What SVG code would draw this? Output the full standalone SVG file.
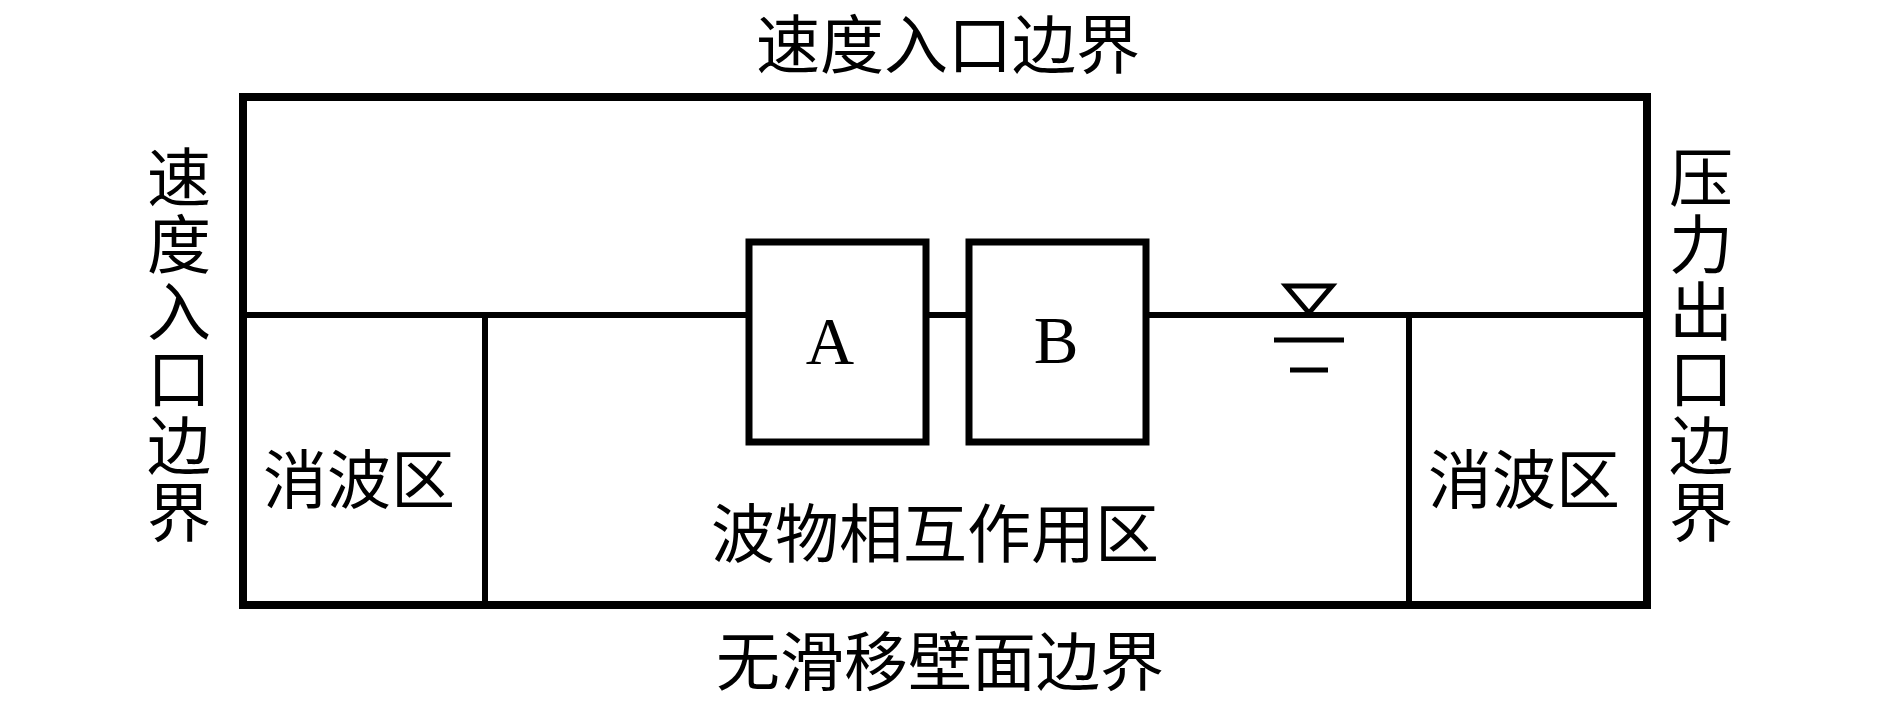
<svg xmlns="http://www.w3.org/2000/svg" width="1890" height="705" viewBox="0 0 1890 705">
<style>
.ln{fill:none;stroke:#000;stroke-width:6;stroke-linecap:square}
.box{fill:#fff;stroke:#000;stroke-width:7}
.cjk{font-family:"Noto Sans CJK SC","Noto Sans",sans-serif;font-size:64px;fill:#000;text-anchor:middle}
.lat{font-family:"Liberation Serif",serif;font-size:67px;fill:#000;text-anchor:middle}
</style>
<rect width="1890" height="705" fill="#fff"/>
<g id="connectors">
<line class="ln" x1="243" y1="315" x2="749" y2="315"/>
<line class="ln" x1="926" y1="315" x2="969" y2="315"/>
<line class="ln" x1="1146" y1="315" x2="1647" y2="315"/>
<line class="ln" x1="485" y1="315" x2="485" y2="605"/>
<line class="ln" x1="1409" y1="315" x2="1409" y2="605"/>
</g>
<g id="domain">
<rect x="243" y="97" width="1404" height="508" fill="none" stroke="#000" stroke-width="8"/>
</g>
<g id="waterlevel">
<polygon points="1286,286 1332,286 1309,313" fill="#fff" stroke="#000" stroke-width="5" stroke-linejoin="miter"/>
<line x1="1274" y1="340" x2="1344" y2="340" stroke="#000" stroke-width="5"/>
<line x1="1290" y1="370" x2="1328" y2="370" stroke="#000" stroke-width="5"/>
</g>
<g id="nodeA">
<rect class="box" x="749" y="242" width="177" height="200"/>
<text class="lat" x="830" y="364">A</text>
</g>
<g id="nodeB">
<rect class="box" x="969" y="242" width="177" height="200"/>
<text class="lat" x="1056" y="363">B</text>
</g>
<g id="labels">
<text class="cjk" x="948" y="68">速度入口边界</text>
<text class="cjk" x="940" y="685">无滑移壁面边界</text>
<text class="cjk" x="935" y="557">波物相互作用区</text>
<text class="cjk" x="359" y="503">消波区</text>
<text class="cjk" x="1524" y="503">消波区</text>
<text class="cjk"><tspan x="179" y="201">速</tspan><tspan x="179" y="268">度</tspan><tspan x="179" y="335">入</tspan><tspan x="179" y="402">口</tspan><tspan x="179" y="469">边</tspan><tspan x="179" y="536">界</tspan></text>
<text class="cjk"><tspan x="1701" y="201">压</tspan><tspan x="1701" y="268">力</tspan><tspan x="1701" y="335">出</tspan><tspan x="1701" y="402">口</tspan><tspan x="1701" y="469">边</tspan><tspan x="1701" y="536">界</tspan></text>
</g>
</svg>
